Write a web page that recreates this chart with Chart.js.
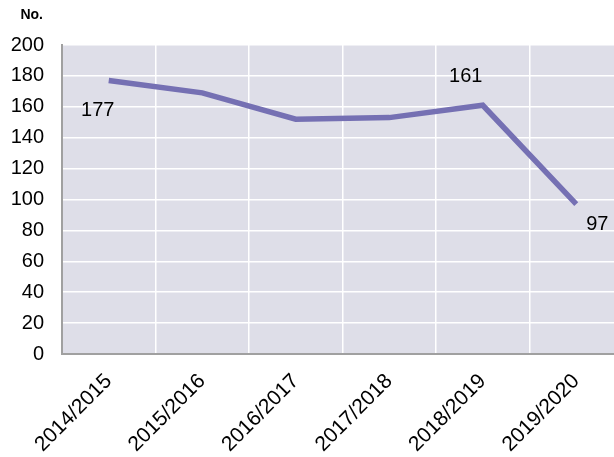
<!DOCTYPE html>
<html>
<head>
<meta charset="utf-8">
<script src="https://cdn.jsdelivr.net/npm/chart.js@4.4.0/dist/chart.umd.min.js"></script>
<style>
  html, body { margin: 0; padding: 0; background: #fff; overflow: hidden; }
  #clip { width: 614px; height: 457px; overflow: hidden; }
  /* plot runs a little past the right edge of the view */
  #wrap { width: 623px; height: 457px; }
</style>
</head>
<body>
<div id="clip"><div id="wrap"><canvas id="chart"></canvas></div></div>
<script>
const seasons = ['2014/2015', '2015/2016', '2016/2017', '2017/2018', '2018/2019', '2019/2020'];
const counts = [177, 169, 152, 153, 161, 97];
const yTicks = [0, 20, 40, 60, 80, 100, 120, 140, 160, 180, 200];

// which points carry a value label, and where the text sits relative to the point
const labelled = [0, 4, 5];
const labelShift = { 0: [-11, 30], 4: [-17, -29], 5: [21, 20] };

const plotBg = {
    id: 'plotBg',
    beforeDraw(chart) {
        const a = chart.chartArea, ctx = chart.ctx;
        ctx.save();
        ctx.fillStyle = '#dedee8';
        ctx.fillRect(a.left, a.top, a.right - a.left, a.bottom - a.top);
        ctx.restore();
    }
};

const extras = {
    id: 'extras',
    afterDatasetsDraw(chart) {
        const ctx = chart.ctx;
        const pts = chart.getDatasetMeta(0).data;
        ctx.save();
        ctx.fillStyle = '#000';
        ctx.font = '20px "Liberation Sans", Arial, sans-serif';
        ctx.textAlign = 'center';
        ctx.textBaseline = 'middle';
        labelled.forEach(i => {
            const [dx, dy] = labelShift[i];
            ctx.fillText(String(counts[i]), pts[i].x + dx, pts[i].y + dy);
        });
        // unit caption above the y axis
        ctx.font = 'bold 14px "Liberation Sans", Arial, sans-serif';
        ctx.textAlign = 'right';
        ctx.fillText('No.', chart.chartArea.left - 19, 15);
        ctx.restore();
    }
};

new Chart(document.getElementById('chart'), {
    type: 'line',
    data: {
        labels: seasons,
        datasets: [{
            data: counts,
            borderColor: '#7570b3',
            borderWidth: 5.5,
            pointRadius: 0,
            tension: 0,
            fill: false
        }]
    },
    options: {
        responsive: true,
        maintainAspectRatio: false,
        animation: false,
        layout: { padding: { top: 45, right: 0, left: 0, bottom: 0 } },
        plugins: {
            legend: { display: false },
            tooltip: { enabled: false }
        },
        scales: {
            x: {
                offset: true,
                grid: { offset: true, color: '#ffffff', lineWidth: 1.5, drawTicks: false },
                border: { color: '#a0a0a0', width: 2 },
                ticks: {
                    color: '#000',
                    font: { family: '"Liberation Sans", Arial, sans-serif', size: 21 },
                    minRotation: 45,
                    maxRotation: 45,
                    padding: 15
                },
                afterFit(scale) { scale.height = 103; }
            },
            y: {
                min: 0,
                max: 200,
                afterBuildTicks(scale) { scale.ticks = yTicks.map(v => ({ value: v })); },
                grid: { color: '#ffffff', lineWidth: 1.5, drawTicks: false },
                border: { color: '#a0a0a0', width: 2 },
                ticks: {
                    color: '#000',
                    font: { family: '"Liberation Sans", Arial, sans-serif', size: 20 },
                    padding: 18
                },
                afterFit(scale) { scale.width = 62; }
            }
        }
    },
    plugins: [plotBg, extras]
});
</script>
</body>
</html>
